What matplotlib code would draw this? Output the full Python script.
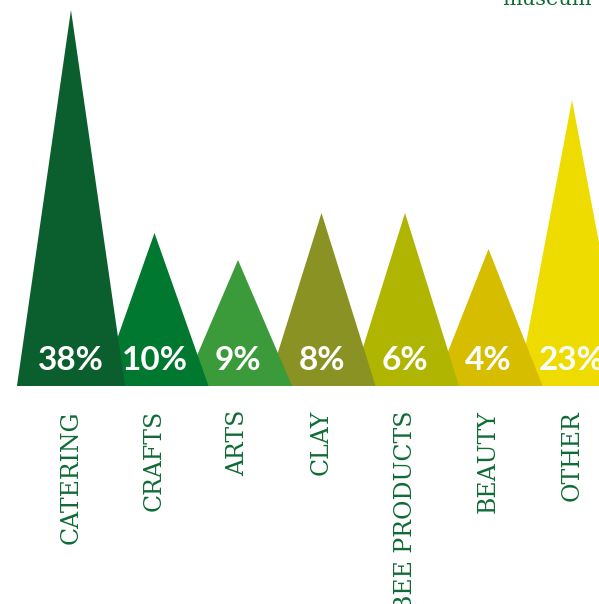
import matplotlib
matplotlib.use("Agg")
import matplotlib.pyplot as plt
from matplotlib.patches import Polygon

categories = ["CATERING", "CRAFTS", "ARTS", "CLAY", "BEE PRODUCTS", "BEAUTY", "OTHER"]
shares = [38, 10, 9, 8, 6, 4, 23]
# peak heights as drawn in the picture (not proportional to the shares)
peak_heights = [376, 153, 126, 173, 173, 137, 286]
colors = ["#0b5e2e", "#00782f", "#3b9a3a", "#8a9223", "#afb500", "#d6bd00", "#eedb00"]

DARK_GREEN = "#0f6b35"

fig = plt.figure(figsize=(5.99, 6.04), dpi=100)
ax = fig.add_axes([0, 0, 1, 1])
ax.set_xlim(-0.850, 6.323)
ax.set_ylim(-218, 386)
ax.axis("off")

half_w = 0.647
n = len(categories)
for i, (h, c) in enumerate(zip(peak_heights, colors)):
    tri = Polygon([(i - half_w, 0), (i, h), (i + half_w, 0)], closed=True,
                  facecolor=c, edgecolor="none", zorder=n - i)
    ax.add_patch(tri)
    ax.text(i, 26, f"{shares[i]}%", ha="center", va="center", color="white",
            fontsize=24, fontweight="bold", family=["Lato", "DejaVu Sans"],
            zorder=20)
    ax.text(i, -24, categories[i], rotation=90, ha="center", va="top",
            color=DARK_GREEN, fontsize=17, family="DejaVu Serif")

fig.text(592 / 599, 1 - 5 / 604, "museum", ha="right", va="baseline",
         color=DARK_GREEN, fontsize=15, family="DejaVu Serif")

fig.savefig("out.png", dpi=100)
